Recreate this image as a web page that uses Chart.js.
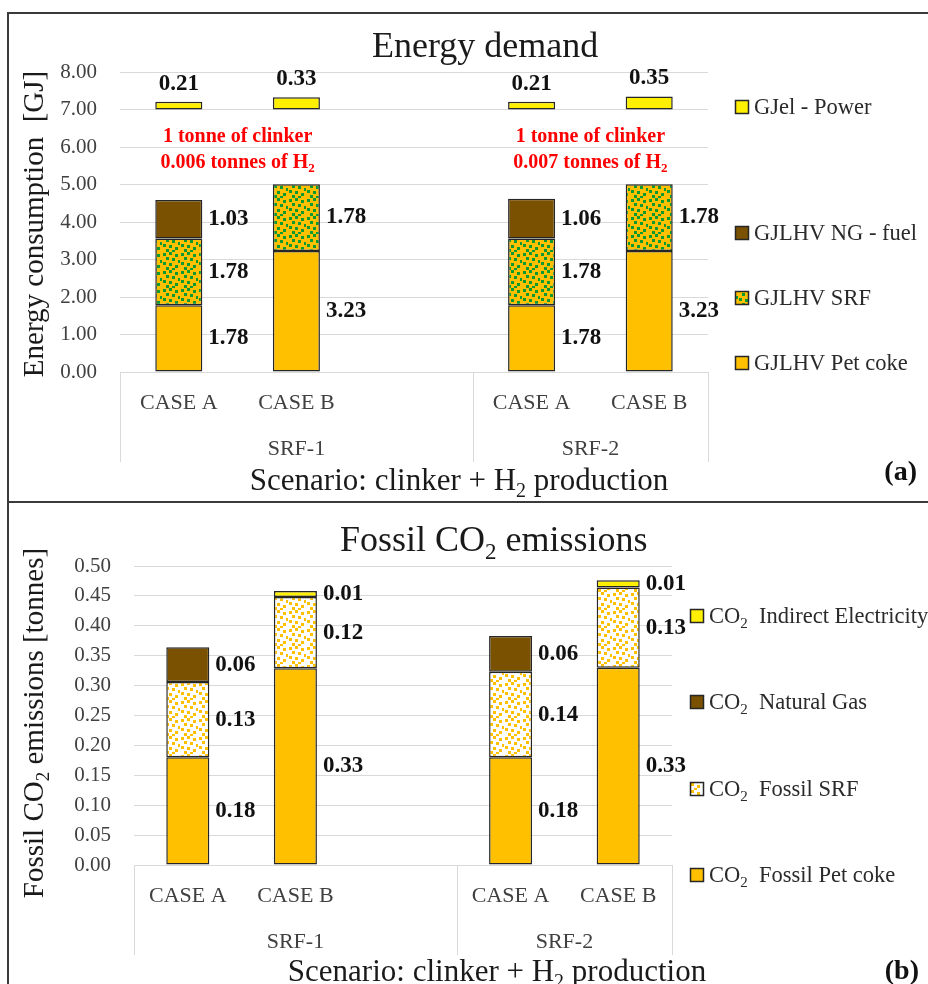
<!DOCTYPE html>
<html>
<head>
<meta charset="utf-8">
<script src="https://cdn.jsdelivr.net/npm/chart.js@4/dist/chart.umd.min.js"></script>
<style>
  body { margin: 0; background: #fff; width: 928px; height: 984px; overflow: hidden; position: relative; }
  canvas { position: absolute; left: 0; }
  #energy { top: 0; }
  #co2 { top: 502px; }
  .line { position: absolute; background: #3a3a3a; }
</style>
</head>
<body>
<canvas id="energy" width="928" height="502"></canvas>
<canvas id="co2" width="928" height="482"></canvas>
<div class="line" style="left:7px;top:12px;width:921px;height:2px"></div>
<div class="line" style="left:7px;top:12px;width:2px;height:972px"></div>
<div class="line" style="left:7px;top:501px;width:921px;height:2px"></div>
<script>
// categories (third slot is the empty gap inside SRF-1)
const cases = ['CASE A', 'CASE B', '', 'CASE A', 'CASE B'];
const caseGroup = ['SRF-1', 'SRF-1', 'SRF-1', 'SRF-2', 'SRF-2'];

// energy demand, GJ per tonne of clinker
const petCokeGJ = [1.78, 3.23, null, 1.78, 3.23];
const srfGJ = [1.78, 1.78, null, 1.78, 1.78];
const ngGJ = [1.03, null, null, 1.06, null];
const powerGJ = [0.21, 0.33, null, 0.21, 0.35];
const powerBase = 7; // power bars are drawn floating from 7.00

const clinkerTonnes = 1;
const h2Tonnes = [0.006, 0.007];

// fossil CO2 emissions, tonnes
const petCokeCO2 = [0.18, 0.329, null, 0.18, 0.33];
const srfCO2 = [0.126, 0.119, null, 0.143, 0.134];
const ngCO2 = [0.058, null, null, 0.06, null];
const elecCO2 = [null, 0.01, null, null, 0.012];

const FONT = '"Liberation Serif", "Times New Roman", serif';
const TEXT = '#404040';
const EDGE = '#262626';
const ORANGE = '#FFC000';
const BROWN = '#7A5100';
const YELLOW = '#FFEF00';

function dotPattern(bg, dot) {
  const c = document.createElement('canvas');
  c.width = c.height = 18;
  const g = c.getContext('2d');
  g.fillStyle = bg;
  g.fillRect(0, 0, 18, 18);
  g.fillStyle = dot;
  [[1, 1], [7, 0], [13, 2], [4, 5], [10, 6], [16, 8], [1, 10], [7, 11], [13, 13], [4, 15], [10, 16]]
    .forEach(([x, y]) => g.fillRect(x, y, 3, 3));
  return g.createPattern(c, 'repeat');
}
const srfFill = dotPattern(ORANGE, '#0E9A2E');
const srfCo2Fill = dotPattern('#ffffff', ORANGE);

// text with "_2" style subscripts
function drawRich(ctx, str, x, y, size, opts = {}) {
  const weight = opts.weight || 'normal';
  const segs = str.split(/_(\d)/);
  const fontOf = (i) => `${weight} ${i % 2 ? Math.round(size * 0.65) : size}px ${FONT}`;
  ctx.save();
  ctx.fillStyle = opts.color || TEXT;
  ctx.textBaseline = 'alphabetic';
  ctx.textAlign = 'left';
  let w = 0;
  segs.forEach((s, i) => { ctx.font = fontOf(i); w += ctx.measureText(s).width; });
  let cx = opts.align === 'center' ? x - w / 2 : opts.align === 'right' ? x - w : x;
  segs.forEach((s, i) => {
    ctx.font = fontOf(i);
    ctx.fillText(s, cx, y + (i % 2 ? size * 0.22 : 0));
    cx += ctx.measureText(s).width;
  });
  ctx.restore();
}

const valueLabels = {
  id: 'valueLabels',
  afterDatasetsDraw(chart) {
    const ctx = chart.ctx;
    ctx.save();
    ctx.font = `bold 23px ${FONT}`;
    ctx.fillStyle = '#111';
    chart.data.datasets.forEach((ds, di) => {
      chart.getDatasetMeta(di).data.forEach((bar, i) => {
        const raw = ds.data[i];
        if (raw == null) return;
        if (Array.isArray(raw)) {
          ctx.textAlign = 'center';
          ctx.textBaseline = 'middle';
          ctx.fillText((raw[1] - raw[0]).toFixed(2), bar.x, bar.y - 18);
        } else {
          ctx.textAlign = 'left';
          ctx.textBaseline = 'middle';
          ctx.fillText(raw.toFixed(2), bar.x + bar.width / 2 + 6, (bar.y + bar.base) / 2);
        }
      });
    });
    ctx.restore();
  }
};

function decorations(d) {
  return {
    id: 'decor',
    afterDraw(chart) {
      const { ctx, chartArea: a, scales: { x } } = chart;
      // two-level category axis
      ctx.save();
      ctx.strokeStyle = '#d9d9d9';
      ctx.lineWidth = 1;
      ctx.font = `22px ${FONT}`;
      ctx.fillStyle = TEXT;
      ctx.textAlign = 'center';
      ctx.textBaseline = 'middle';
      cases.forEach((c, i) => { if (c) ctx.fillText(c, x.getPixelForValue(i), a.bottom + 31); });
      const edges = [a.left];
      caseGroup.forEach((g, i) => {
        if (i === caseGroup.length - 1 || caseGroup[i + 1] !== g) {
          const right = i === caseGroup.length - 1 ? a.right : (x.getPixelForValue(i) + x.getPixelForValue(i + 1)) / 2;
          const left = edges[edges.length - 1];
          ctx.fillText(g, (left + right) / 2, a.bottom + 77);
          edges.push(right);
        }
      });
      edges.forEach((ex) => {
        ctx.beginPath();
        ctx.moveTo(Math.round(ex) + 0.5, a.bottom);
        ctx.lineTo(Math.round(ex) + 0.5, a.bottom + 90);
        ctx.stroke();
      });
      ctx.restore();

      drawRich(ctx, d.title, d.titleX, d.titleY, 36, { color: '#1a1a1a' });
      drawRich(ctx, d.scenario, d.scenarioX, d.scenarioY, 31, { align: 'center', color: '#1a1a1a' });
      drawRich(ctx, d.tag, d.tagX, d.tagY, 28, { align: 'right', weight: 'bold', color: '#111' });

      ctx.save();
      ctx.translate(d.yTitleX, d.yTitleY);
      ctx.rotate(-Math.PI / 2);
      drawRich(ctx, d.yTitle, 0, 0, 29, { align: 'center', color: '#1a1a1a' });
      ctx.restore();

      // legend
      d.legend.forEach((item, k) => {
        const ly = d.legendY[k];
        ctx.save();
        ctx.fillStyle = item.fill;
        ctx.fillRect(d.legendX, ly - 7, 14, 14);
        ctx.strokeStyle = EDGE;
        ctx.lineWidth = 1.5;
        ctx.strokeRect(d.legendX + 0.5, ly - 6.5, 13, 13);
        ctx.restore();
        drawRich(ctx, item.label, d.legendX + 19, ly + 7, 22.5, { color: '#2a2a2a' });
      });

      if (d.extra) d.extra(chart);
    }
  };
}

function baseOptions(yMax, yStep, h, padTop, padRight, yWidth) {
  return {
    responsive: false,
    animation: false,
    devicePixelRatio: 1,
    layout: { padding: { top: padTop, right: padRight, left: 0, bottom: 0 } },
    plugins: { legend: { display: false }, title: { display: false }, tooltip: { enabled: false } },
    datasets: { bar: { barPercentage: 0.4, categoryPercentage: 1, borderColor: EDGE, borderWidth: 1.5, borderSkipped: false } },
    scales: {
      x: {
        stacked: true,
        offset: true,
        grid: { display: false },
        border: { display: false },
        ticks: { display: false },
        afterFit: (s) => { s.height = h; }
      },
      y: {
        stacked: true,
        min: 0,
        max: yMax,
        grid: { color: '#d9d9d9', lineWidth: 1, drawTicks: false },
        border: { display: false },
        ticks: {
          stepSize: yStep,
          padding: 23,
          color: TEXT,
          font: { family: FONT, size: 21 },
          callback: (v) => Number(v).toFixed(2)
        },
        afterFit: (s) => { s.width = yWidth; }
      }
    }
  };
}

new Chart(document.getElementById('energy'), {
  type: 'bar',
  data: {
    labels: cases,
    datasets: [
      { label: 'GJLHV Pet coke', data: petCokeGJ, backgroundColor: ORANGE, stack: 'fuel' },
      { label: 'GJLHV SRF', data: srfGJ, backgroundColor: srfFill, stack: 'fuel' },
      { label: 'GJLHV NG - fuel', data: ngGJ, backgroundColor: BROWN, stack: 'fuel' },
      {
        label: 'GJel - Power',
        data: powerGJ.map((v) => (v == null ? null : [powerBase, powerBase + v])),
        backgroundColor: YELLOW, stack: 'power', grouped: false
      }
    ]
  },
  options: baseOptions(8, 1, 130, 72, 220, 120),
  plugins: [valueLabels, decorations({
    title: 'Energy demand', titleX: 372, titleY: 57,
    scenario: 'Scenario: clinker + H_2 production', scenarioX: 459, scenarioY: 490,
    tag: '(a)', tagX: 917, tagY: 480,
    yTitle: 'Energy consumption  [GJ]', yTitleX: 43, yTitleY: 224,
    legendX: 735, legendY: [107, 233, 298, 363],
    legend: [
      { label: 'GJel - Power', fill: YELLOW },
      { label: 'GJLHV NG - fuel', fill: BROWN },
      { label: 'GJLHV SRF', fill: srfFill },
      { label: 'GJLHV Pet coke', fill: ORANGE }
    ],
    extra(chart) {
      const { ctx, scales: { x, y } } = chart;
      const stackTop = Math.max(...cases.map((c, i) => (petCokeGJ[i] || 0) + (srfGJ[i] || 0) + (ngGJ[i] || 0)));
      const cy = (y.getPixelForValue(stackTop) + y.getPixelForValue(powerBase)) / 2;
      const groupStarts = [0, 3];
      groupStarts.forEach((g, k) => {
        const cx = (x.getPixelForValue(g) + x.getPixelForValue(g + 1)) / 2;
        drawRich(ctx, `${clinkerTonnes} tonne of clinker`, cx, cy - 5, 20, { align: 'center', weight: 'bold', color: '#ff0000' });
        drawRich(ctx, `${h2Tonnes[k].toFixed(3)} tonnes of H_2`, cx, cy + 21, 20, { align: 'center', weight: 'bold', color: '#ff0000' });
      });
    }
  })]
});

new Chart(document.getElementById('co2'), {
  type: 'bar',
  data: {
    labels: cases,
    datasets: [
      { label: 'CO2 Fossil Pet coke', data: petCokeCO2, backgroundColor: ORANGE },
      { label: 'CO2 Fossil SRF', data: srfCO2, backgroundColor: srfCo2Fill },
      { label: 'CO2 Natural Gas', data: ngCO2, backgroundColor: BROWN },
      { label: 'CO2 Indirect Electricity', data: elecCO2, backgroundColor: YELLOW }
    ]
  },
  options: baseOptions(0.5, 0.05, 119, 64, 256, 134),
  plugins: [valueLabels, decorations({
    title: 'Fossil CO_2 emissions', titleX: 340, titleY: 49,
    scenario: 'Scenario: clinker + H_2 production', scenarioX: 497, scenarioY: 479,
    tag: '(b)', tagX: 919, tagY: 477,
    yTitle: 'Fossil CO_2 emissions [tonnes]', yTitleX: 43, yTitleY: 221,
    legendX: 690, legendY: [114, 200, 287, 373],
    legend: [
      { label: 'CO_2  Indirect Electricity', fill: YELLOW },
      { label: 'CO_2  Natural Gas', fill: BROWN },
      { label: 'CO_2  Fossil SRF', fill: srfCo2Fill },
      { label: 'CO_2  Fossil Pet coke', fill: ORANGE }
    ]
  })]
});
</script>
</body>
</html>
